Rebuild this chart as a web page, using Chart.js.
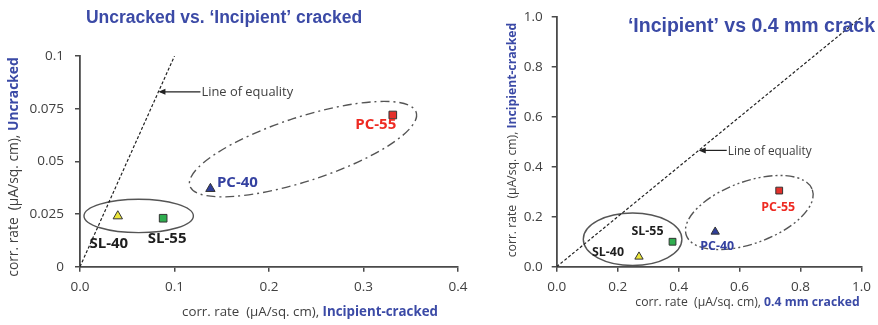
<!DOCTYPE html>
<html lang="en">
<head>
<meta charset="UTF-8">
<title>Corrosion rate comparison</title>
<script src="https://cdn.jsdelivr.net/npm/chart.js"></script>
<style>
  body { margin: 0; background: #fff; }
  .wrap { position: relative; width: 878px; height: 325px; }
  canvas { position: absolute; top: 0; }
  #leftChart { left: 0; }
  #rightChart { left: 490px; }
</style>
</head>
<body>
<div class="wrap">
  <canvas id="leftChart" width="490" height="325"></canvas>
  <canvas id="rightChart" width="388" height="325"></canvas>
</div>
<script>
// mixes shown in both panels
const mixes = ['SL-40', 'SL-55', 'PC-40', 'PC-55'];

// panel 1: uncracked vs incipient-cracked (µA/sq. cm)
const incipientX = [0.040, 0.088, 0.138, 0.331];
const uncrackedY = [0.024, 0.023, 0.037, 0.072];

// panel 2: incipient vs 0.4 mm crack (µA/sq. cm)
const crack04X = [0.27, 0.38, 0.52, 0.73];
const incipientY = [0.04, 0.10, 0.14, 0.305];

// line of equality end points
const equalityLeft = [0, 0.1];
const equalityRight = [0, 1];

const leftXTicks = ['0.0', '0.1', '0.2', '0.3', '0.4'];
const leftYTicks = ['0', '0.025', '0.05', '0.075', '0.1'];
const rightTicks = ['0.0', '0.2', '0.4', '0.6', '0.8', '1.0'];

const markerFill = ['#ece63a', '#2fae4f', '#2f3e99', '#e4302b'];
const markerShape = ['triangle', 'rect', 'triangle', 'rect'];
const labelColor = ['#1e1e1e', '#1e1e1e', '#3441a0', '#ee2a22'];
const blue = '#3b4aa6';
const axisGrey = '#4a4a4a';
const textGrey = '#404040';

// draws a run of differently styled text pieces centred on (0,0)
function richText(ctx, parts) {
  let total = 0;
  parts.forEach(p => { ctx.font = p.font; p.w = ctx.measureText(p.text).width; total += p.w; });
  let x = -total / 2;
  ctx.textAlign = 'left';
  ctx.textBaseline = 'middle';
  parts.forEach(p => {
    ctx.font = p.font;
    ctx.fillStyle = p.color;
    ctx.fillText(p.text, x, 0);
    x += p.w;
  });
}

function axisTitle(size, bold) {
  return [
    { text: 'corr. rate  (µA/sq. cm), ', font: size + 'px "Open Sans"', color: textGrey },
    { text: bold, font: 'bold ' + size + 'px "Open Sans"', color: blue }
  ];
}

const overlay = {
  id: 'overlay',
  beforeDatasetsDraw(chart, args, o) {
    const { ctx, scales: { x, y } } = chart;
    // grouping ellipses
    o.ellipses.forEach(e => {
      ctx.save();
      ctx.translate(x.getPixelForValue(e.x), y.getPixelForValue(e.y));
      ctx.rotate(e.rot * Math.PI / 180);
      ctx.beginPath();
      ctx.ellipse(0, 0, e.rx, e.ry, 0, 0, Math.PI * 2);
      ctx.setLineDash(e.dash);
      ctx.strokeStyle = '#555';
      ctx.lineWidth = 1.4;
      ctx.stroke();
      ctx.restore();
    });
    // "Line of equality" pointer
    const a = o.arrow;
    const tx = x.getPixelForValue(a.t), ty = y.getPixelForValue(a.t);
    ctx.save();
    ctx.strokeStyle = '#222';
    ctx.fillStyle = '#222';
    ctx.lineWidth = 1.2;
    ctx.beginPath();
    ctx.moveTo(tx + 2, ty);
    ctx.lineTo(tx + a.len, ty);
    ctx.stroke();
    ctx.beginPath();
    ctx.moveTo(tx, ty);
    ctx.lineTo(tx + 7, ty - 3);
    ctx.lineTo(tx + 7, ty + 3);
    ctx.closePath();
    ctx.fill();
    ctx.font = a.size + 'px "Open Sans"';
    ctx.fillStyle = textGrey;
    ctx.textAlign = 'left';
    ctx.textBaseline = 'middle';
    ctx.fillText('Line of equality', tx + a.len + 1, ty + 1);
    ctx.restore();
  },
  afterDatasetsDraw(chart, args, o) {
    const { ctx, scales: { x, y } } = chart;
    ctx.save();
    ctx.font = 'bold ' + o.labelSize + 'px "Open Sans"';
    ctx.textAlign = 'center';
    ctx.textBaseline = 'middle';
    mixes.forEach((m, i) => {
      const px = x.getPixelForValue(o.xs[i]) + o.offsets[i][0];
      const py = y.getPixelForValue(o.ys[i]) + o.offsets[i][1];
      ctx.fillStyle = labelColor[i];
      ctx.fillText(m, px, py);
    });
    ctx.restore();
  },
  afterDraw(chart, args, o) {
    const ctx = chart.ctx;
    ctx.save();
    ctx.font = 'bold ' + o.title.size + 'px "Liberation Sans"';
    ctx.fillStyle = blue;
    ctx.textAlign = o.title.align;
    ctx.textBaseline = 'middle';
    ctx.fillText(o.title.text, o.title.x, o.title.y);

    ctx.save();
    ctx.translate(o.xTitle.x, o.xTitle.y);
    richText(ctx, axisTitle(o.xTitle.size, o.xTitle.bold));
    ctx.restore();

    ctx.translate(o.yTitle.x, o.yTitle.y);
    ctx.rotate(-Math.PI / 2);
    richText(ctx, axisTitle(o.yTitle.size, o.yTitle.bold));
    ctx.restore();
  }
};

function mixSets(xs, ys, r) {
  return mixes.map((m, i) => ({
    label: m,
    data: [{ x: xs[i], y: ys[i] }],
    pointStyle: markerShape[i],
    pointRadius: r,
    backgroundColor: markerFill[i],
    borderColor: '#333',
    borderWidth: 1
  }));
}

function equalitySet(ends) {
  return {
    label: 'Line of equality',
    data: ends.map(v => ({ x: v, y: v })),
    showLine: true,
    pointRadius: 0,
    borderColor: '#222',
    borderWidth: 1.2,
    borderDash: [3, 2]
  };
}

function axis(min, max, step, labels, fit, pad) {
  return {
    type: 'linear',
    min: min,
    max: max,
    ticks: {
      stepSize: step,
      padding: pad,
      color: textGrey,
      font: { family: 'Open Sans', size: 13.5 },
      callback: (v, i) => labels[i]
    },
    grid: { drawOnChartArea: false, tickLength: 5, color: axisGrey, lineWidth: 1.5 },
    border: { color: axisGrey, width: 1.8 },
    afterFit: fit
  };
}

new Chart(document.getElementById('leftChart'), {
  type: 'scatter',
  data: { datasets: [...mixSets(incipientX, uncrackedY, 5.4), equalitySet(equalityLeft)] },
  plugins: [overlay],
  options: {
    responsive: false,
    animation: false,
    layout: { padding: { top: 56, right: 32, left: 0, bottom: 0 } },
    scales: {
      x: axis(0, 0.4, 0.1, leftXTicks, s => { s.height = 58.3; }, 7),
      y: axis(0, 0.1, 0.025, leftYTicks, s => { s.width = 80; }, 11)
    },
    plugins: {
      legend: { display: false },
      tooltip: { enabled: false },
      overlay: {
        xs: incipientX,
        ys: uncrackedY,
        labelSize: 15,
        offsets: [[-9, 28], [4, 20], [27, -6], [-17, 10]],
        ellipses: [
          { x: 0.0621, y: 0.0241, rx: 54.7, ry: 16.7, rot: 0, dash: [] },
          { x: 0.236, y: 0.0558, rx: 119, ry: 32, rot: -18, dash: [9, 4, 2, 4] }
        ],
        arrow: { t: 0.083, len: 42, size: 12.9 },
        title: { text: 'Uncracked vs. \u2018Incipient\u2019 cracked', x: 224, y: 18, size: 17.5, align: 'center' },
        xTitle: { x: 310, y: 312, size: 13.3, bold: 'Incipient-cracked' },
        yTitle: { x: 14, y: 167, size: 13.8, bold: 'Uncracked' }
      }
    }
  }
});

new Chart(document.getElementById('rightChart'), {
  type: 'scatter',
  data: { datasets: [...mixSets(crack04X, incipientY, 4.8), equalitySet(equalityRight)] },
  plugins: [overlay],
  options: {
    responsive: false,
    animation: false,
    layout: { padding: { top: 13.3, right: 14, left: 0, bottom: 0 } },
    scales: {
      x: axis(0, 1, 0.2, rightTicks, s => { s.height = 58.3; }, 7),
      y: axis(0, 1, 0.2, rightTicks, s => { s.width = 66.7; }, 9)
    },
    plugins: {
      legend: { display: false },
      tooltip: { enabled: false },
      overlay: {
        xs: crack04X,
        ys: incipientY,
        labelSize: 12.4,
        offsets: [[-31, -4], [-25, -10], [2, 15], [-1, 17]],
        ellipses: [
          { x: 0.249, y: 0.110, rx: 49.3, ry: 26.2, rot: 0, dash: [] },
          { x: 0.632, y: 0.217, rx: 67, ry: 31, rot: -20, dash: [9, 3, 2, 3, 2, 3] }
        ],
        arrow: { t: 0.466, len: 28, size: 11.8 },
        title: { text: '\u2018Incipient\u2019 vs 0.4 mm crack', x: 385, y: 27, size: 19.5, align: 'right' },
        xTitle: { x: 257.5, y: 303, size: 12.2, bold: '0.4 mm cracked' },
        yTitle: { x: 23, y: 140, size: 12.2, bold: 'Incipient-cracked' }
      }
    }
  }
});
</script>
</body>
</html>
